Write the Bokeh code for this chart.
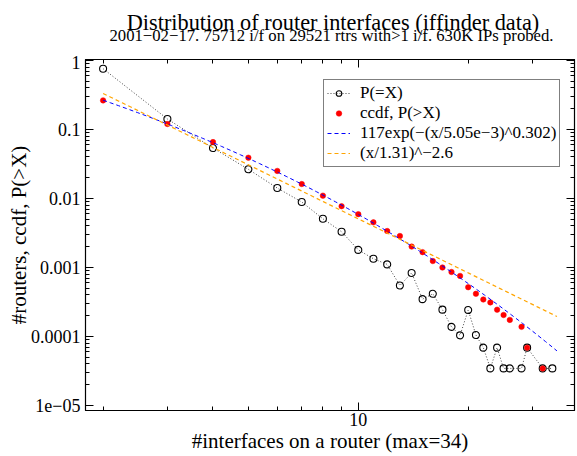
import numpy as np
from bokeh.plotting import figure
from bokeh.layouts import column
from bokeh.models import (LogAxis, FixedTicker, CustomJSTickFormatter, Legend,
                          LegendItem, Label, Range1d, ColumnDataSource)
from bokeh.embed import file_html
from bokeh.resources import INLINE

# ---- data ----
x_eq = [2, 3, 4, 5, 6, 7, 8, 9, 10, 11, 12, 13, 14, 15, 16, 17, 18, 19, 20,
        21, 22, 23, 24, 25, 26, 28, 29, 32, 34]
p_eq = [0.76, 0.142, 0.0538, 0.0265, 0.01416, 0.0089, 0.00508, 0.0033, 0.0018,
        0.00134, 0.00111, 0.000548, 0.000834, 0.000348, 0.000416, 0.000245,
        0.000138, 0.000104, 0.000242, 0.000105, 6.9e-5, 3.45e-5, 6.9e-5,
        3.45e-5, 3.45e-5, 3.45e-5, 6.9e-5, 3.45e-5, 3.45e-5]
x_ccdf = [2, 3, 4, 5, 6, 7, 8, 9, 10, 11, 12, 13, 14, 15, 16, 17, 18, 19, 20,
          21, 22, 23, 24, 25, 26, 28, 29, 32]
p_ccdf = [0.264, 0.12, 0.0657, 0.039, 0.0251, 0.0162, 0.0110, 0.00773, 0.00593,
          0.00451, 0.00338, 0.00286, 0.00201, 0.00167, 0.00124, 0.00100,
          0.000861, 0.000755, 0.000518, 0.000416, 0.000344, 0.000312, 0.000245,
          0.000205, 0.000174, 0.000138, 6.9e-5, 3.45e-5]

# fit parameters as printed in the legend
fit1_a, fit1_s, fit1_b = 117.0, 5.05e-3, 0.302
fit2_s, fit2_k = 1.31, -2.6
fit_x_range = (2.0, 35.0)

y_ticks = [1e-5, 1e-4, 1e-3, 1e-2, 1e-1, 1.0]
x_major = [10]
x_minor = [2, 3, 4, 5, 6, 7, 8, 9, 20, 30]

title_text = "Distribution of router interfaces (iffinder data)"
subtitle_text = "2001\u221202\u221217. 75712 i/f on 29521 rtrs with>1 i/f. 630K IPs probed."
xlabel_text = "#interfaces on a router (max=34)"
ylabel_text = "#routers, ccdf, P(>X)"

FONT = "'Liberation Serif', 'Times New Roman', Times, serif"
W = 577
HEAD_H = 55

# ---------------- header with the two title lines ----------------
# (its frame is aligned with the main plot's frame, which spans ~85..575 px)
head = figure(width=W, height=HEAD_H, x_range=Range1d(85, 575), y_range=Range1d(0, HEAD_H),
              x_axis_location=None, y_axis_location=None, output_backend="svg",
              toolbar_location=None, min_border=0, outline_line_color=None,
              background_fill_color="white", border_fill_color="white")
head.title = None
head.grid.visible = False
head.add_layout(Label(x=333, y=HEAD_H - 22, text=title_text, text_font=FONT,
                      text_font_size="22.3px", text_color="black",
                      text_align="center", text_baseline="alphabetic"))
head.add_layout(Label(x=331.5, y=HEAD_H - 34.5, text=subtitle_text, text_font=FONT,
                      text_font_size="16.7px", text_color="black",
                      text_align="center", text_baseline="alphabetic"))

# ---------------- main log-log plot ----------------
xf = np.logspace(np.log10(fit_x_range[0]), np.log10(fit_x_range[1]), 120)
y_fit1 = fit1_a * np.exp(-(xf / fit1_s) ** fit1_b)
y_fit2 = (xf / fit2_s) ** fit2_k

p = figure(width=W, height=456 - HEAD_H, x_axis_type="log", y_axis_type="log",
           x_range=Range1d(1.79, 39.1), y_range=Range1d(10 ** -5.072, 10 ** 0.014),
           output_backend="svg", toolbar_location=None,
           min_border_left=85, min_border_right=1, min_border_top=0,
           min_border_bottom=46, background_fill_color="white",
           border_fill_color="white")
p.title = None
p.grid.visible = False
p.outline_line_color = "black"
p.outline_line_width = 1.2

y_minor = [m * 10.0 ** e for e in range(-5, 0) for m in range(2, 10)]

def style_axis(ax, ticks, minor):
    ax.ticker = FixedTicker(ticks=ticks, minor_ticks=minor)
    ax.major_tick_in = 8
    ax.major_tick_out = 0
    ax.minor_tick_in = 4
    ax.minor_tick_out = 0
    ax.axis_line_color = "black"
    ax.major_tick_line_color = "black"
    ax.minor_tick_line_color = "black"
    ax.major_label_text_font = FONT
    ax.major_label_text_font_size = "18px"
    ax.major_label_text_color = "black"
    ax.axis_label_text_font = FONT
    ax.axis_label_text_font_size = "21px"
    ax.axis_label_text_font_style = "normal"
    ax.axis_label_text_color = "black"

xa = p.xaxis[0]
style_axis(xa, x_major, x_minor)
xa.formatter = CustomJSTickFormatter(code="return Math.round(tick).toString();")
xa.major_label_standoff = 2
xa.axis_label = xlabel_text
xa.axis_label_standoff = 0

ya = p.yaxis[0]
style_axis(ya, y_ticks, y_minor)
ya.formatter = CustomJSTickFormatter(code="""
const e = Math.round(Math.log10(tick));
const m = {"0":"1","-1":"0.1","-2":"0.01","-3":"0.001","-4":"0.0001","-5":"1e\u221205"};
return m[String(e)] || "";
""")
ya.major_label_standoff = 5
ya.axis_label = ylabel_text
ya.axis_label_standoff = -3

top = LogAxis()
style_axis(top, x_major, x_minor)
top.formatter = CustomJSTickFormatter(code="return ' ';")
top.major_label_text_font_size = "1px"
top.major_label_standoff = 0
p.add_layout(top, "above")
right = LogAxis()
style_axis(right, y_ticks, y_minor)
right.formatter = CustomJSTickFormatter(code="return ' ';")
right.major_label_text_font_size = "1px"
right.major_label_standoff = 0
p.add_layout(right, "right")

src_eq = ColumnDataSource(dict(x=x_eq, y=p_eq))
src_cc = ColumnDataSource(dict(x=x_ccdf, y=p_ccdf))

r_eq_line = p.line("x", "y", source=src_eq, line_color="#444444", line_dash="1 2",
                   line_width=1)
r_eq_pts = p.scatter("x", "y", source=src_eq, marker="circle", size=7,
                     fill_color=None, line_color="black", line_width=1.1)
r_cc = p.scatter("x", "y", source=src_cc, marker="circle", size=5.5,
                 fill_color="#ff0000", line_color="#ff0000", line_width=0.5)
r_f1 = p.line(xf, y_fit1, line_color="#0000ff", line_dash="4 3", line_width=1)
r_f2 = p.line(xf, y_fit2, line_color="#ffa500", line_dash="4 3", line_width=1.2)

legend = Legend(items=[
    LegendItem(label="P(=X)", renderers=[r_eq_line, r_eq_pts]),
    LegendItem(label="ccdf, P(>X)", renderers=[r_cc]),
    LegendItem(label="117exp(\u2212(x/5.05e\u22123)^0.302)", renderers=[r_f1]),
    LegendItem(label="(x/1.31)^\u22122.6", renderers=[r_f2]),
], location=(238, 243))
legend.label_text_font = FONT
legend.label_text_font_size = "17px"
legend.label_text_color = "black"
legend.border_line_color = "black"
legend.border_line_width = 1
legend.background_fill_alpha = 1
legend.glyph_width = 23
legend.glyph_height = 14
legend.label_height = 17
legend.spacing = 0
legend.padding = 3
legend.margin = 0
legend.label_standoff = 10
p.add_layout(legend, "center")

layout = column(head, p, spacing=0)
open("out.html", "w").write(file_html(layout, INLINE))
